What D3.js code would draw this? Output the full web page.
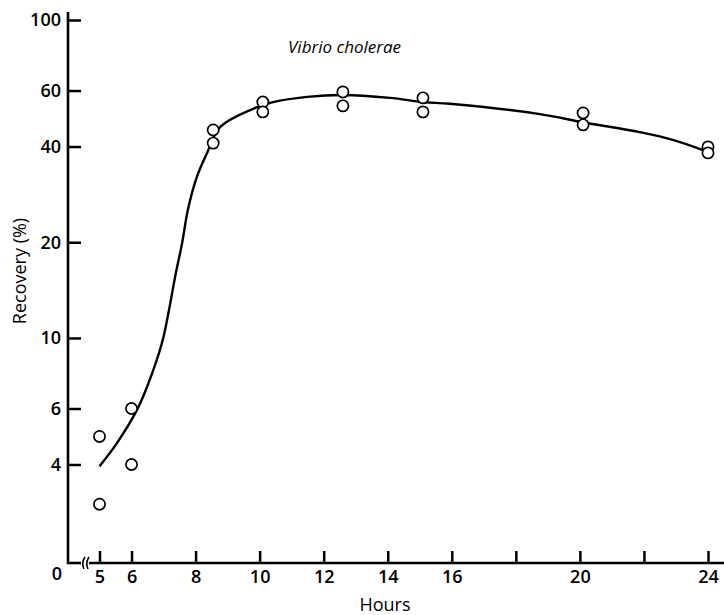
<!DOCTYPE html>
<html>
<head>
<meta charset="utf-8">
<script src="https://cdn.jsdelivr.net/npm/d3@7"></script>
<style>
  body { margin: 0; background: #fff; }
  svg { display: block; }
  .tick text { font-family: "Open Sans", Lato, sans-serif; font-size: 18px; font-weight: 600; fill: #000; }
</style>
</head>
<body>
<div class="chart"></div>
<script>

// Sampling times (hours) and the two replicate recoveries (%)
var sampleHours = [5, 6, 8.55, 10.1, 12.6, 15.1, 20.1, 24];
var recoveryA = [4.9, 6.0, 45.1, 55.2, 59.4, 56.9, 51.0, 39.9];
var recoveryB = [3.0, 4.0, 41.0, 51.4, 53.7, 51.4, 46.8, 38.2];

// Hand-drawn fitted curve
var fitHours = [5, 5.55, 6.17, 6.48, 6.95, 7.17, 7.36, 7.58, 7.76, 8.04, 8.36, 8.77,
                9.92, 10.42, 11.48, 12.6, 14.07, 15.1, 15.94, 18.75, 20.09, 21.87, 22.9, 23.84];
var fitRecovery = [3.95, 4.68, 5.94, 7.0, 9.64, 12.25, 15.55, 19.9, 25.3, 32.1, 38.2, 46.1,
                   53.2, 55.2, 57.3, 58.1, 56.9, 55.2, 54.5, 50.6, 47.7, 44.4, 42.0, 39.0];

// Axis ticks
var xTicks = [5, 6, 8, 10, 12, 14, 16, 18, 20, 22, 24];
var xTickLabels = [5, 6, 8, 10, 12, 14, 16, 20, 24];
var yTicks = [100, 60, 40, 20, 10, 6, 4];
var yFloor = 1.96;   // the bottom of the axis is labelled "0"

var width = 724, height = 615;
var textFont = "'Open Sans', Lato, sans-serif";

var svg = d3.select(".chart")
    .append("svg")
      .attr("width", width)
      .attr("height", height);

var x = d3.scaleLinear()
    .domain([5, 24])
    .range([99.5, 708]);

var y = d3.scaleLog()
    .domain([yFloor, 100])
    .range([563, 20]);

var axisX = 68;

// Y axis, ticks pointing into the plot
var yAxis = d3.axisLeft(y)
    .tickValues(yTicks)
    .tickFormat(d3.format("d"))
    .tickSizeInner(-13)
    .tickSizeOuter(0)
    .tickPadding(7);

var gy = svg.append("g")
    .attr("transform", "translate(" + axisX + ",0)")
    .call(yAxis);
gy.select(".domain").remove();
gy.selectAll(".tick line").attr("stroke", "#000").attr("stroke-width", 2.5);

svg.append("line")
    .attr("x1", axisX).attr("x2", axisX)
    .attr("y1", 12).attr("y2", y(yFloor) + 1)
    .attr("stroke", "#000")
    .attr("stroke-width", 2.6);

svg.append("text")
    .attr("x", 57)
    .attr("y", y(yFloor) + 17)
    .attr("text-anchor", "middle")
    .style("font-family", textFont)
    .style("font-weight", 600)
    .style("font-size", "18px")
    .text("0");

// X axis, ticks pointing up
var xAxis = d3.axisBottom(x)
    .tickValues(xTicks)
    .tickFormat(function(d) { return xTickLabels.indexOf(d) >= 0 ? d : ""; })
    .tickSizeInner(-12)
    .tickSizeOuter(0)
    .tickPadding(7);

var gx = svg.append("g")
    .attr("transform", "translate(0," + y(yFloor) + ")")
    .call(xAxis);
gx.select(".domain").remove();
gx.selectAll(".tick line").attr("stroke", "#000").attr("stroke-width", 2.5);

// axis line with a break near the origin
svg.append("line")
    .attr("x1", axisX - 1).attr("x2", 81)
    .attr("y1", y(yFloor)).attr("y2", y(yFloor))
    .attr("stroke", "#000").attr("stroke-width", 2.6);
svg.append("line")
    .attr("x1", 89).attr("x2", width)
    .attr("y1", y(yFloor)).attr("y2", y(yFloor))
    .attr("stroke", "#000").attr("stroke-width", 2.6);
[83, 87].forEach(function(bx) {
    svg.append("path")
        .attr("d", "M" + (bx + 2) + "," + (y(yFloor) - 6) +
                   " Q" + (bx - 2) + "," + y(yFloor) + " " + (bx + 1) + "," + (y(yFloor) + 6))
        .attr("fill", "none")
        .attr("stroke", "#000")
        .attr("stroke-width", 1.6);
});

// Axis titles
svg.append("text")
    .attr("transform", "translate(26,271) rotate(-90)")
    .attr("text-anchor", "middle")
    .style("font-family", textFont)
    .style("font-size", "18px")
    .text("Recovery (%)");

svg.append("text")
    .attr("x", 385)
    .attr("y", 611)
    .attr("text-anchor", "middle")
    .style("font-family", textFont)
    .style("font-size", "18px")
    .text("Hours");

svg.append("text")
    .attr("x", 288)
    .attr("y", 53)
    .style("font-family", textFont)
    .style("font-style", "italic")
    .style("font-size", "17px")
    .text("Vibrio cholerae");

// Fitted curve
var line = d3.line()
    .x(function(d) { return x(d[0]); })
    .y(function(d) { return y(d[1]); })
    .curve(d3.curveCatmullRom.alpha(0.5));

svg.append("path")
    .datum(d3.zip(fitHours, fitRecovery))
    .attr("d", line)
    .attr("fill", "none")
    .attr("stroke", "#000")
    .attr("stroke-width", 2.4);

// Data points, both replicates
var points = d3.zip(sampleHours, recoveryA).concat(d3.zip(sampleHours, recoveryB));

svg.selectAll(".point")
    .data(points)
    .enter().append("circle")
      .attr("class", "point")
      .attr("cx", function(d) { return x(d[0]); })
      .attr("cy", function(d) { return y(d[1]); })
      .attr("r", 5.6)
      .attr("fill", "#fff")
      .attr("stroke", "#000")
      .attr("stroke-width", 1.7);

</script>
</body>
</html>
